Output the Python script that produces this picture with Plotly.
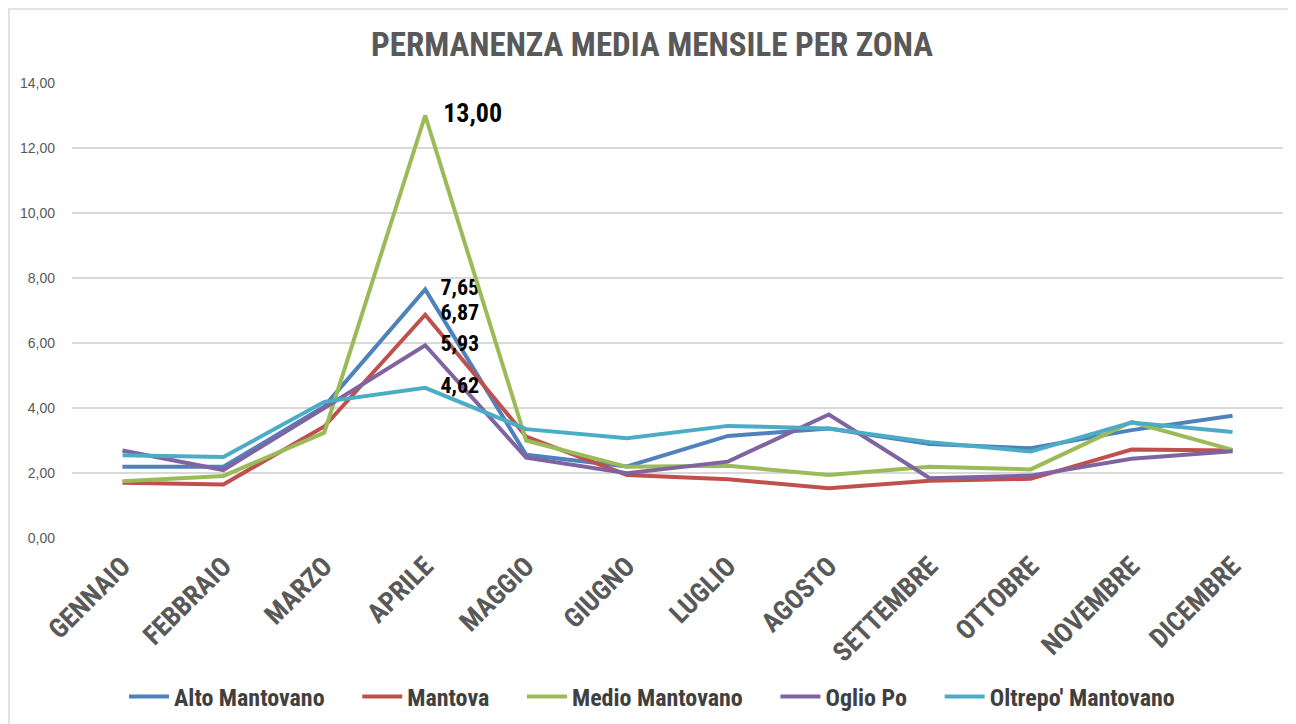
import plotly.graph_objects as go

months = ["GENNAIO", "FEBBRAIO", "MARZO", "APRILE", "MAGGIO", "GIUGNO",
          "LUGLIO", "AGOSTO", "SETTEMBRE", "OTTOBRE", "NOVEMBRE", "DICEMBRE"]

alto_mantovano = [2.19, 2.19, 4.05, 7.65, 2.56, 2.20, 3.14, 3.37, 2.89, 2.76, 3.32, 3.76]
mantova = [1.70, 1.65, 3.43, 6.87, 3.12, 1.94, 1.81, 1.53, 1.76, 1.82, 2.72, 2.69]
medio_mantovano = [1.75, 1.91, 3.24, 13.00, 3.00, 2.19, 2.22, 1.94, 2.19, 2.11, 3.57, 2.71]
oglio_po = [2.69, 2.09, 4.00, 5.93, 2.47, 1.99, 2.35, 3.80, 1.84, 1.92, 2.44, 2.67]
oltrepo_mantovano = [2.55, 2.49, 4.19, 4.62, 3.35, 3.07, 3.45, 3.37, 2.95, 2.66, 3.55, 3.26]

series_names = ["Alto Mantovano", "Mantova", "Medio Mantovano", "Oglio Po", "Oltrepo' Mantovano"]
series_values = [alto_mantovano, mantova, medio_mantovano, oglio_po, oltrepo_mantovano]
colors = ["#4F81BD", "#C0504D", "#9BBB59", "#8064A2", "#4BACC6"]
label_month = "APRILE"

NARROW = "Liberation Sans Narrow, Arial Narrow, Roboto Condensed, sans-serif"
NB = "\u00a0"

fig = go.Figure()
for i, (name, vals, col) in enumerate(zip(series_names, series_values, colors)):
    texts = [(NB * 3 + f"{v:.2f}".replace(".", ",") if m == label_month else "")
             for m, v in zip(months, vals)]
    size = 26 if max(vals) > 10 else 22
    pad = NB * 5 if i < len(series_names) - 1 else ""
    fig.add_trace(go.Scatter(
        x=months, y=vals, name=name + pad, mode="lines+text",
        line=dict(color=col, width=4),
        text=texts, textposition="middle right",
        textfont=dict(family=NARROW, size=size, color="#000000", weight="bold"),
        cliponaxis=False,
        hoverinfo="skip",
    ))

# page has an 8px body margin: figure origin sits at page (8, 8)
OFF = 8
W, H = 1296 - OFF, 724 - OFF
ml, mr, mt, mb = 72 - OFF, 1296 - 1275 - OFF, 83 - OFF, 724 - 538
pw, ph = W - ml - mr, H - mt - mb

def px_x(x):
    return (x - OFF - ml) / pw

def px_y(y):
    return (H - mb - (y - OFF)) / ph

fig.update_layout(
    width=W, height=H,
    margin=dict(l=ml, r=mr, t=mt, b=mb, autoexpand=False),
    paper_bgcolor="white", plot_bgcolor="white",
    title=dict(text="<b>PERMANENZA MEDIA MENSILE PER ZONA</b>", x=0.5, xanchor="center",
               y=1 - (44 - OFF) / H, yanchor="middle",
               font=dict(family=NARROW, size=33, color="#595959")),
    showlegend=True,
    legend=dict(orientation="h", x=px_x(652), xanchor="center", y=px_y(697), yanchor="middle",
                font=dict(family=NARROW, size=24, color="#404040", weight="bold"),
                itemwidth=40, tracegroupgap=0),
    xaxis=dict(type="category", tickangle=-45, showgrid=False, showline=False, ticks="",
               tickfont=dict(family=NARROW, size=27, color="#595959", weight="bold"),
               range=[-0.5, 11.5], automargin=False, ticklabelstandoff=6),
    yaxis=dict(range=[0, 14], dtick=2, tickformat=".2f", showgrid=True, gridcolor="#D9D9D9",
               gridwidth=1.5, zeroline=False, showline=False, ticks="",
               tickfont=dict(family="Liberation Sans, Arial, sans-serif", size=14, color="#595959"),
               ticklabelstandoff=16, automargin=False),
    separators=",.",
    shapes=[dict(type="rect", xref="paper", yref="paper",
                 x0=px_x(9), x1=px_x(1294), y0=px_y(735), y1=px_y(9),
                 line=dict(color="#D9D9D9", width=1.5), fillcolor="rgba(0,0,0,0)", layer="below")],
)

fig.write_html("out.html")
